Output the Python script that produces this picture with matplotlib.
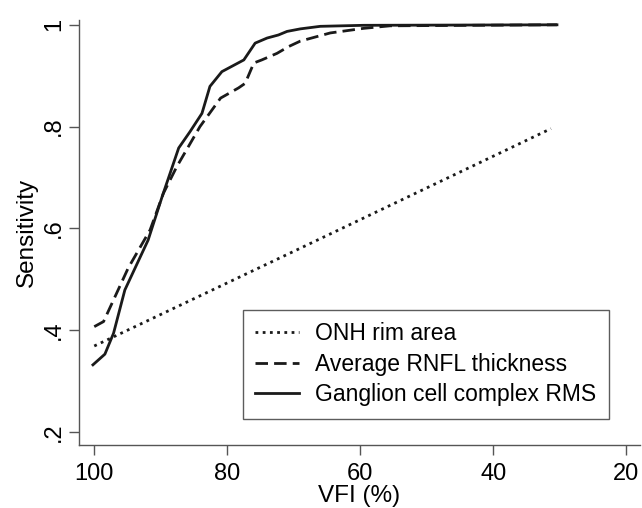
import matplotlib
matplotlib.use("Agg")
import matplotlib.pyplot as plt

plt.rcParams["font.family"] = ["Liberation Sans", "DejaVu Sans"]

# Values (VFI %, sensitivity)
onh_vfi = [100.0, 69.5, 31.3]
onh_sens = [0.369, 0.558, 0.796]

rnfl_vfi = [100.0, 98.6, 94.9, 91.6, 89.6, 87.6, 84.1, 81.0, 78.3, 77.3,
            76.0, 74.8, 72.5, 70.8, 69.0, 64.5, 59.5, 55.5, 30.4]
rnfl_sens = [0.407, 0.417, 0.522, 0.597, 0.669, 0.721, 0.800, 0.856, 0.876, 0.885,
             0.925, 0.931, 0.944, 0.957, 0.968, 0.984, 0.993, 0.998, 1.0]

gcc_vfi = [100.2, 98.4, 97.1, 95.4, 91.9, 89.8, 87.3, 85.6, 83.8, 82.6,
           80.8, 77.5, 75.8, 74.0, 72.3, 71.0, 69.0, 66.0, 59.5, 30.4]
gcc_sens = [0.332, 0.353, 0.394, 0.479, 0.577, 0.662, 0.758, 0.790, 0.826, 0.879,
            0.908, 0.931, 0.964, 0.974, 0.980, 0.987, 0.992, 0.997, 0.999, 1.0]

x_ticks = [100, 80, 60, 40, 20]
y_ticks = [0.2, 0.4, 0.6, 0.8, 1.0]
y_tick_labels = [".2", ".4", ".6", ".8", "1"]


def main():
    fig = plt.figure(figsize=(6.42, 5.08), dpi=100)
    ax = fig.add_axes([0.123, 0.124, 0.874, 0.837])

    ax.plot(onh_vfi, onh_sens, color="#1a1a1a", lw=2.0, linestyle=(0, (1, 1.6)),
            label="ONH rim area")
    ax.plot(rnfl_vfi, rnfl_sens, color="#1a1a1a", lw=2.0, linestyle=(0, (4.5, 2.2)),
            label="Average RNFL thickness")
    ax.plot(gcc_vfi, gcc_sens, color="#1a1a1a", lw=2.0,
            label="Ganglion cell complex RMS")

    ax.set_xlim(102.3, 17.9)
    ax.set_ylim(0.1745, 1.0098)

    ax.set_xticks(x_ticks)
    ax.set_yticks(y_ticks)
    ax.set_yticklabels(y_tick_labels, rotation=90, va="center")
    ax.tick_params(labelsize=17, length=7, width=1.0, color="#555555", pad=3)
    ax.tick_params(axis="x", pad=6)

    for side in ("top", "right"):
        ax.spines[side].set_visible(False)
    for side in ("left", "bottom"):
        ax.spines[side].set_color("#555555")
        ax.spines[side].set_linewidth(1.0)

    ax.set_xlabel("VFI (%)", fontsize=17.5, labelpad=0)
    ax.set_ylabel("Sensitivity", fontsize=17.5, labelpad=4)

    leg = ax.legend(loc="upper left", bbox_to_anchor=(0.292, 0.318),
                    fontsize=16.5, frameon=True, fancybox=False, handlelength=1.9,
                    borderpad=0.55, labelspacing=0.32, handletextpad=0.7,
                    borderaxespad=0)
    leg.get_frame().set_edgecolor("#333333")
    leg.get_frame().set_linewidth(1.0)

    fig.savefig("out.png", dpi=100)
    plt.close(fig)


if __name__ == "__main__":
    main()
